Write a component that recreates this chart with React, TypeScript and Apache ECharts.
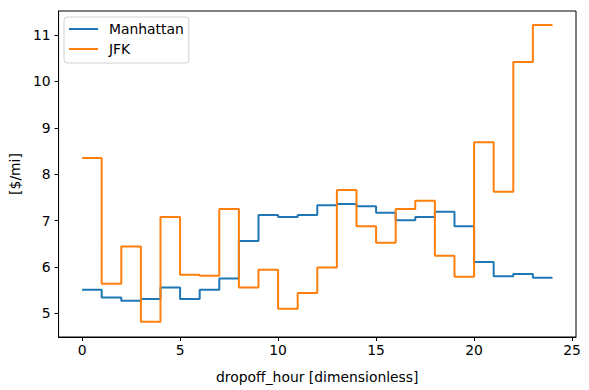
import React, { useEffect, useRef } from "react";
import * as echarts from "echarts";

const hours = [0, 1, 2, 3, 4, 5, 6, 7, 8, 9, 10, 11, 12, 13, 14, 15, 16, 17, 18, 19, 20, 21, 22, 23];
const manhattan = [5.51, 5.34, 5.27, 5.31, 5.56, 5.31, 5.51, 5.75, 6.56, 7.12, 7.08, 7.12, 7.33, 7.36, 7.31, 7.17, 7.01, 7.08, 7.19, 6.88, 6.11, 5.8, 5.85, 5.77];
const jfk = [8.35, 5.64, 6.44, 4.82, 7.08, 5.83, 5.81, 7.25, 5.56, 5.94, 5.1, 5.44, 5.99, 7.66, 6.88, 6.52, 7.25, 7.43, 6.24, 5.79, 8.69, 7.62, 10.42, 11.22];
const xTicks = [0, 5, 10, 15, 20, 25];
const yTicks = [5, 6, 7, 8, 9, 10, 11];

const FONT = "DejaVu Sans";

function stepData(vals: number[]) {
  const d = hours.map((h, i) => [h, vals[i]]);
  d.push([hours[hours.length - 1] + 1, vals[vals.length - 1]]);
  return d;
}

export default function App() {
  const ref = useRef<HTMLDivElement>(null);
  useEffect(() => {
    if (!ref.current) return;
    const chart = echarts.init(ref.current, null, { renderer: "svg" });
    chart.setOption({
      animation: false,
      backgroundColor: "#fff",
      textStyle: { fontFamily: FONT },
      grid: {
        left: 57,
        right: 13,
        top: 11,
        bottom: 53,
        show: true,
        borderColor: "#000",
        borderWidth: 1,
        containLabel: false,
      },
      legend: {
        orient: "vertical",
        left: 64,
        top: 17,
        padding: [5, 5, 7, 5],
        itemGap: 6,
        itemWidth: 29,
        itemHeight: 2,
        icon: "rect",
        backgroundColor: "rgba(255,255,255,0.8)",
        borderColor: "#d0d0d0",
        borderWidth: 1,
        borderRadius: 3,
        textStyle: { fontFamily: FONT, fontSize: 13.9, color: "#000", padding: [0, 0, 0, 6] },
        data: ["Manhattan", "JFK"],
      },
      xAxis: {
        type: "value",
        min: -1.2,
        max: 25.2,
        name: "dropoff_hour [dimensionless]",
        nameLocation: "middle",
        nameGap: 33,
        nameTextStyle: { fontFamily: FONT, fontSize: 13.9, color: "#000" },
        axisLine: { show: true, onZero: false, lineStyle: { color: "#000", width: 1 } },
        axisTick: { show: true, inside: false, length: 4, lineStyle: { color: "#000" }, customValues: xTicks },
        axisLabel: { fontFamily: FONT, fontSize: 13.9, color: "#000", margin: 6, customValues: xTicks },
        splitLine: { show: false },
      },
      yAxis: {
        type: "value",
        min: 4.49,
        max: 11.52,
        name: "[$/mi]",
        nameLocation: "middle",
        nameRotate: 90,
        nameGap: 33,
        nameTextStyle: { fontFamily: FONT, fontSize: 13.9, color: "#000" },
        axisLine: { show: true, onZero: false, lineStyle: { color: "#000", width: 1 } },
        axisTick: { show: true, inside: false, length: 4, lineStyle: { color: "#000" }, customValues: yTicks },
        axisLabel: { fontFamily: FONT, fontSize: 13.9, color: "#000", margin: 8, customValues: yTicks },
        splitLine: { show: false },
      },
      series: [
        {
          name: "Manhattan",
          type: "line",
          step: "end",
          data: stepData(manhattan),
          symbol: "none",
          lineStyle: { color: "#1f77b4", width: 2 },
          itemStyle: { color: "#1f77b4" },
        },
        {
          name: "JFK",
          type: "line",
          step: "end",
          data: stepData(jfk),
          symbol: "none",
          lineStyle: { color: "#ff7f0e", width: 2 },
          itemStyle: { color: "#ff7f0e" },
        },
      ],
    });
    return () => chart.dispose();
  }, []);
  return <div ref={ref} style={{ width: 589, height: 390, position: "absolute", left: 0, top: 0 }} />;
}
